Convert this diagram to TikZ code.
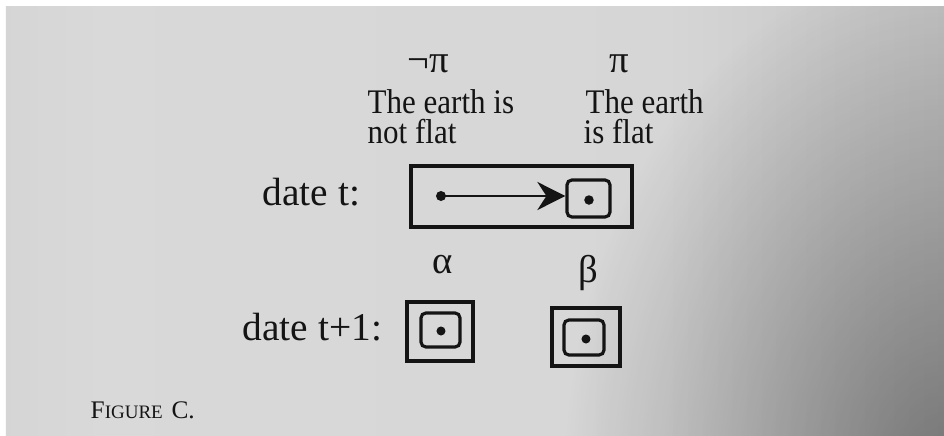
\documentclass[tikz,border=0pt]{standalone}
\usepackage{fontspec}
\setmainfont{Liberation Serif}
\newfontfamily\labf[FakeStretch=0.9]{Liberation Serif}
\usetikzlibrary{arrows.meta,fadings}
\definecolor{bgA}{gray}{0.77}
\definecolor{bgB}{gray}{0.85}
\definecolor{bgC}{gray}{0.84}
\definecolor{bgD}{gray}{0.74}
\definecolor{bgE}{gray}{0.55}
\definecolor{ink}{gray}{0.08}
\pgfdeclarehorizontalshading{pagebg}{100bp}{color(0bp)=(bgA); color(30bp)=(bgB); color(60bp)=(bgC); color(80bp)=(bgD); color(100bp)=(bgE)}
\tikzfading[name=cornerfade, inner color=transparent!0, outer color=transparent!100]
\tikzset{
  lab/.style={font=\labf\fontsize{9.8}{11}\selectfont, text=ink, anchor=base west, inner sep=0pt},
  greek/.style={font=\fontsize{11}{13}\selectfont, text=ink, anchor=base, inner sep=0pt},
  datelab/.style={font=\fontsize{11.2}{13}\selectfont, text=ink, anchor=base west, inner sep=0pt},
  outerbox/.style={draw=ink, line width=1.2pt, inner sep=0pt},
  innerbox/.style={draw=ink, line width=0.9pt, rounded corners=1.4pt, inner sep=0pt},
  dot/.style={circle, fill=ink, inner sep=0pt, minimum size=#1},
}
\begin{document}
\begin{tikzpicture}[x=0.01cm, y=-0.01cm]
\useasboundingbox (0,0) rectangle (944,436);
\fill[white] (0,0) rectangle (944,436);
\shade[shading=pagebg] (6,6) rectangle (944,436);
\begin{scope}
\clip (6,6) rectangle (944,436);
\fill[black, opacity=0.4, path fading=cornerfade] (944,480) ellipse [x radius=380, y radius=520];
\end{scope}

% top labels
\node[greek] (npi) at (428,72) {¬π};
\node[greek] (pi) at (619,72) {π};
\node[lab] (l1a) at (367,113) {The earth is};
\node[lab] (l1b) at (367,143) {not flat};
\node[lab] (l2a) at (585,113) {The earth};
\node[lab] (l2b) at (583,143) {is flat};

% date t
\node[datelab] (dt) at (262,205) {date t:};
\node[outerbox, minimum width=2.21cm, minimum height=0.61cm] (big) at (521.5,196.5) {};
\node[innerbox, minimum width=0.43cm, minimum height=0.37cm] (s1) at (588.5,198.5) {};
\node[dot=0.095cm] (d1) at (589,200) {};
\node[dot=0.1cm] (d0) at (441,196) {};
\draw[ink, line width=0.8pt, -{Stealth[length=0.28cm, width=0.28cm, inset=0.09cm]}] (d0.center) -- (s1.west |- d0.center);

% date t+1
\node[greek] (al) at (443,273) {α};
\node[greek] (be) at (588,282) {β};
\node[datelab] (dt1) at (242,340) {date t+1:};

\node[outerbox, minimum width=0.66cm, minimum height=0.59cm] (ao) at (440,331.5) {};
\node[innerbox, minimum width=0.39cm, minimum height=0.34cm] (ai) at (440.5,330) {};
\node[dot=0.09cm] (ad) at (441,331) {};

\node[outerbox, minimum width=0.68cm, minimum height=0.58cm] (bo) at (586,337) {};
\node[innerbox, minimum width=0.40cm, minimum height=0.35cm] (bi) at (584,337.5) {};
\node[dot=0.09cm] (bd) at (586,339) {};

% caption
\node[anchor=base west, inner sep=0pt, text=ink] (cap) at (90,418) {{\fontsize{7.2}{9}\selectfont F}{\fontsize{5.4}{7}\selectfont IGURE} {\fontsize{7.2}{9}\selectfont C.}};
\end{tikzpicture}
\end{document}
